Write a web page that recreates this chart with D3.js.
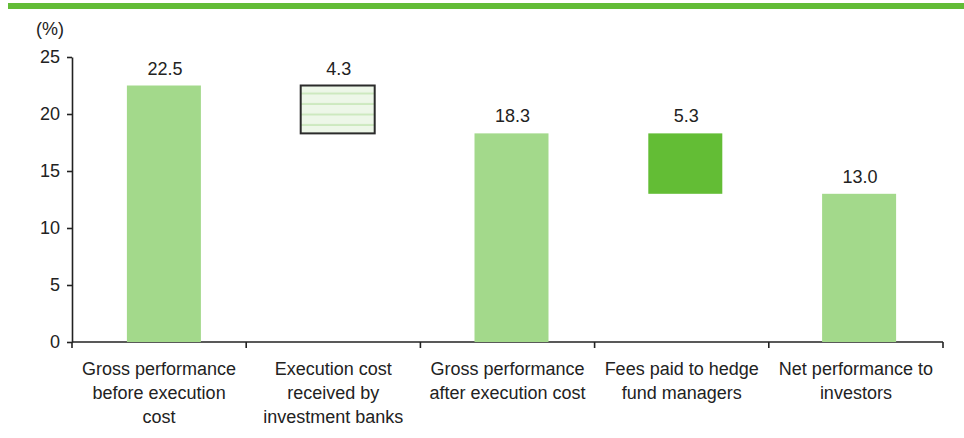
<!doctype html>
<html lang="en">
<head>
  <meta charset="utf-8">
  <title>Performance waterfall</title>
  <style>
    body { margin: 0; background: #fff; }
    svg { display: block; font-family: "Liberation Sans", Arial, sans-serif; }
    .axis path, .axis line { stroke: #222; stroke-width: 1.6px; }
    .axis text { font-size: 18px; fill: #222; }
  </style>
</head>
<body>
  <div id="chart"></div>
  <script src="https://cdn.jsdelivr.net/npm/d3@7"></script>
  <script>
// chart data
var categories = [
  ["Gross performance", "before execution", "cost"],
  ["Execution cost", "received by", "investment banks"],
  ["Gross performance", "after execution cost"],
  ["Fees paid to hedge", "fund managers"],
  ["Net performance to", "investors"]
];
var barLow  = [0, 18.3, 0, 13.0, 0];
var barHigh = [22.5, 22.5, 18.3, 18.3, 13.0];
var valueLabels = ["22.5", "4.3", "18.3", "5.3", "13.0"];
var barKind = ["total", "hatch", "total", "fee", "total"];
var yTicks = [0, 5, 10, 15, 20, 25];

(function(){
  var width = 964, height = 438;
  var left = 72, right = 943, top = 57, bottom = 342;

  var svg = d3.select("#chart").append("svg")
      .attr("width", width)
      .attr("height", height);

  // hatch pattern for the execution cost box
  var pat = svg.append("defs").append("pattern")
      .attr("id", "hatch")
      .attr("patternUnits", "userSpaceOnUse")
      .attr("width", 10).attr("height", 10.5);
  pat.append("rect").attr("width", 10).attr("height", 10.5).attr("fill", "#edf7e8");
  pat.append("rect").attr("y", 8.5).attr("width", 10).attr("height", 2).attr("fill", "#cde9bf");

  // green band across the top
  svg.append("rect")
      .attr("x", 8).attr("y", 3)
      .attr("width", width - 8).attr("height", 6)
      .attr("fill", "#63bc37");

  var idx = d3.range(categories.length);
  var x = d3.scaleBand().domain(idx).range([left, right]).padding(0);
  // bars sit a little right of the band centres in the original
  var xb = d3.scaleBand().domain(idx).range([left + 5, right + 3]).padding(0);
  var y = d3.scaleLinear().domain([0, 25]).range([bottom, top]);
  var barW = 74;

  // y axis
  svg.append("g")
      .attr("class", "axis")
      .attr("transform", "translate(" + left + ",0)")
      .call(d3.axisLeft(y).tickValues(yTicks).tickSize(5).tickSizeOuter(0).tickPadding(7));

  svg.append("text")
      .attr("x", 36).attr("y", 35)
      .attr("font-size", 18).attr("fill", "#222")
      .text("(%)");

  // x axis with ticks at band edges
  var xAxis = svg.append("g").attr("class", "axis");
  xAxis.append("line")
      .attr("x1", left).attr("x2", right)
      .attr("y1", bottom).attr("y2", bottom);
  var edges = idx.map(function(i){ return x(i); }).concat([right]);
  xAxis.selectAll("line.tick")
    .data(edges).enter().append("line")
      .attr("class", "tick")
      .attr("x1", function(d){ return d; }).attr("x2", function(d){ return d; })
      .attr("y1", bottom).attr("y2", bottom + 6);

  var labels = xAxis.selectAll("text.cat")
    .data(categories).enter().append("text")
      .attr("class", "cat")
      .attr("text-anchor", "middle")
      .attr("x", function(d, i){ return x(i) + x.bandwidth() / 2; })
      .attr("y", 375);
  labels.selectAll("tspan")
    .data(function(d){ return d; }).enter().append("tspan")
      .attr("x", function(){ return d3.select(this.parentNode).attr("x"); })
      .attr("dy", function(d, j){ return j === 0 ? 0 : 24; })
      .text(function(d){ return d; });

  // bars
  var cx = function(i){ return xb(i) + xb.bandwidth() / 2; };
  svg.selectAll("rect.bar")
    .data(idx).enter().append("rect")
      .attr("class", "bar")
      .attr("x", function(i){ return cx(i) - barW / 2; })
      .attr("y", function(i){ return y(barHigh[i]); })
      .attr("width", barW)
      .attr("height", function(i){ return y(barLow[i]) - y(barHigh[i]); })
      .attr("fill", function(i){
        return barKind[i] === "hatch" ? "url(#hatch)" : barKind[i] === "fee" ? "#63bd35" : "#a3d98b";
      })
      .attr("stroke", function(i){ return barKind[i] === "hatch" ? "#2b2b2b" : "none"; })
      .attr("stroke-width", 2);

  // value labels
  svg.selectAll("text.val")
    .data(idx).enter().append("text")
      .attr("class", "val")
      .attr("text-anchor", "middle")
      .attr("x", function(i){ return cx(i) + 1; })
      .attr("y", function(i){ return y(barHigh[i]) - 11; })
      .attr("font-size", 18).attr("fill", "#222")
      .text(function(i){ return valueLabels[i]; });
})();
  </script>
</body>
</html>
